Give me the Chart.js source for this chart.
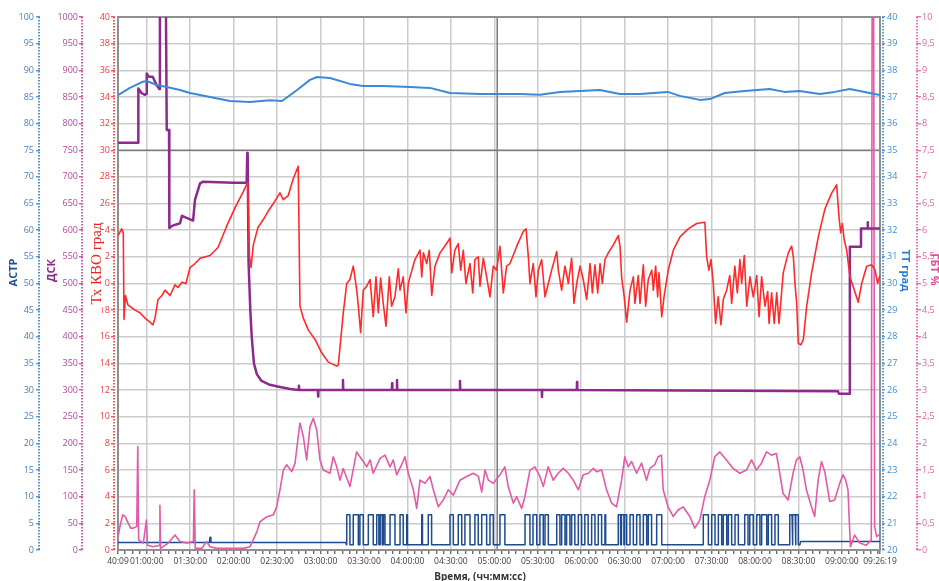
<!DOCTYPE html>
<html>
<head>
<meta charset="utf-8">
<script src="https://cdn.jsdelivr.net/npm/chart.js@4.4.1/dist/chart.umd.min.js"></script>
<style>
  html, body { margin: 0; padding: 0; background: #ffffff; }
  #wrap { width: 939px; height: 581px; }
</style>
</head>
<body>
<div id="wrap"><canvas id="c" width="939" height="581"></canvas></div>
<script>
// ---- time axis (minutes since 00:00) ----
const timeStart = 40.15;   // 00:40:09
const timeEnd = 566.32;    // 09:26:19
const timeTickValues = [40.15, 60, 90, 120, 150, 180, 210, 240, 270, 300, 330, 360, 390, 420, 450, 480, 510, 540, 566.32];
const timeTickLabels = ['40:09', '01:00:00', '01:30:00', '02:00:00', '02:30:00', '03:00:00', '03:30:00', '04:00:00',
  '04:30:00', '05:00:00', '05:30:00', '06:00:00', '06:30:00', '07:00:00', '07:30:00', '08:00:00', '08:30:00',
  '09:00:00', '09:26:19'];

// marker lines
const markerTime = 302;
const markerTemp = 35;

// ---- Тх КВО, град ----
const txSeries = [[40.2,23.6],[42.7,24.1],[43.8,23.8],[44.3,17.3],[45.3,19.1],[47.0,18.4],[51.9,18.0],[55.3,17.8],[58.8,17.4],[62.2,17.1],[64.3,16.9],[65.7,17.4],[67.8,18.8],[70.5,19.1],[72.6,19.5],[76.1,19.1],[79.5,19.9],[81.6,19.7],[84.3,20.1],[87.1,20.0],[89.9,21.2],[93.3,21.5],[96.8,21.9],[103.7,22.1],[109.2,22.7],[115.2,24.3],[121.0,25.7],[126.7,26.9],[129.7,27.6],[130.9,22.1],[132.0,21.2],[133.6,22.9],[136.8,24.2],[140.5,24.8],[143.7,25.4],[147.4,26.0],[152.0,26.8],[154.3,26.3],[157.7,26.6],[161.0,27.8],[164.6,28.8],[165.8,18.3],[168.1,17.4],[171.6,16.5],[176.2,15.8],[180.8,14.8],[185.4,14.1],[191.2,13.8],[192.3,13.9],[195.7,17.8],[198.1,20.0],[200.3,20.3],[202.6,21.3],[205.0,19.5],[206.1,18.3],[207.7,16.3],[209.5,19.5],[211.9,19.8],[214.2,20.3],[216.4,17.5],[218.3,20.5],[219.9,17.8],[221.5,20.4],[223.3,18.5],[225.2,16.8],[227.5,20.5],[229.1,18.3],[231.4,19.0],[233.7,21.1],[234.9,19.5],[237.1,20.5],[239.0,17.8],[240.6,20.0],[241.8,20.5],[245.2,21.8],[248.7,22.5],[249.9,20.5],[251.0,22.3],[253.3,21.5],[255.1,22.5],[256.8,19.1],[259.0,21.3],[262.5,22.3],[267.1,23.0],[269.4,23.4],[270.6,20.8],[272.8,22.5],[275.1,23.0],[276.8,21.0],[278.6,22.5],[280.4,20.0],[283.2,21.5],[285.1,19.3],[286.6,21.8],[288.9,22.0],[290.1,19.8],[292.4,21.9],[294.7,20.5],[297.0,19.0],[299.3,21.3],[301.6,21.0],[303.9,22.8],[306.2,19.3],[308.5,21.3],[310.8,21.5],[315.5,22.8],[320.0,23.9],[321.9,24.1],[323.5,22.0],[324.6,20.0],[326.9,21.5],[328.8,19.0],[330.4,21.0],[332.7,21.8],[335.0,19.0],[337.3,20.0],[339.6,21.0],[343.1,22.4],[344.2,21.0],[346.5,19.5],[348.8,21.3],[351.1,20.0],[353.4,21.9],[355.0,18.5],[356.9,20.0],[359.2,21.3],[361.4,20.3],[363.8,18.8],[366.1,21.5],[367.7,19.3],[369.5,21.4],[371.4,19.3],[373.0,21.5],[374.6,20.0],[376.4,21.8],[378.7,22.3],[382.2,22.9],[385.6,23.6],[386.8,22.8],[387.9,20.5],[389.7,19.0],[391.4,17.1],[393.7,19.5],[396.0,20.5],[397.1,18.5],[399.4,20.6],[400.6,18.5],[402.9,21.4],[404.5,18.3],[406.3,20.3],[408.7,21.0],[409.8,19.5],[411.4,21.3],[412.8,19.0],[413.7,20.8],[415.6,17.5],[417.2,19.0],[420.1,21.0],[423.6,22.5],[428.2,23.5],[433.9,24.1],[439.7,24.5],[445.4,24.6],[446.6,22.0],[448.2,21.0],[449.6,21.8],[451.2,20.0],[452.8,17.0],[454.6,19.0],[456.5,16.9],[458.1,18.8],[460.4,19.5],[462.6,20.6],[463.9,18.5],[466.1,21.3],[467.8,19.3],[469.6,21.8],[470.8,20.0],[472.6,22.1],[474.3,18.3],[476.5,20.5],[478.8,19.0],[481.2,20.6],[482.8,17.5],[484.6,20.5],[486.9,18.3],[488.8,19.4],[489.7,17.0],[491.5,19.3],[493.3,17.0],[495.0,19.3],[496.6,17.0],[499.5,20.8],[503.0,22.3],[505.3,22.8],[506.5,22.0],[507.6,20.0],[508.8,18.5],[509.9,15.5],[511.8,15.4],[513.4,15.8],[515.7,18.3],[519.1,20.8],[523.7,23.5],[528.3,25.6],[533.0,26.8],[536.4,27.4],[538.0,25.0],[539.2,23.8],[540.3,24.5],[541.6,23.3],[543.3,22.5],[545.6,20.5],[548.6,19.5],[551.3,18.6],[553.7,20.0],[557.1,21.3],[560.6,21.4],[562.9,21.0],[564.7,20.0],[566.3,20.6]];

// ---- TT, град ----
const ttSeries = [[40.15,37.07],[48.4,37.34],[56.7,37.56],[60.0,37.6],[66.9,37.45],[73.8,37.37],[83.0,37.26],[89.9,37.15],[103.7,37.0],[117.5,36.85],[131.3,36.81],[145.1,36.88],[153.4,36.85],[163.8,37.26],[172.7,37.64],[177.6,37.75],[186.5,37.71],[200.3,37.49],[209.3,37.41],[223.1,37.41],[241.8,37.37],[255.6,37.34],[269.4,37.15],[290.1,37.11],[317.7,37.11],[331.5,37.08],[345.3,37.19],[359.1,37.22],[372.9,37.26],[386.7,37.11],[400.5,37.11],[419.8,37.19],[428.1,37.04],[441.9,36.89],[448.8,36.92],[459.1,37.15],[472.9,37.22],[490.2,37.3],[500.5,37.19],[510.9,37.22],[524.7,37.11],[535.0,37.19],[545.4,37.3],[552.3,37.22],[559.2,37.15],[566.32,37.07]];

// ---- ДСК ----
const dskSeries = [[40.15,764],[54.1,764],[54.2,866],[56.5,857],[58.8,854],[59.9,856],[60.0,894],[61.4,888],[64.1,888],[66.9,872],[68.7,865],[69.1,1080],[73.1,1080],[73.8,788],[75.4,788],[75.6,604],[77.4,608],[83.0,613],[84.3,627],[92.0,618],[93.3,657],[96.8,688],[98.9,691],[110,690],[120,689],[129.0,689],[129.4,745],[129.7,740],[130.3,540],[131.5,450],[132.5,400],[134,350],[136,330],[139,318],[145,310],[152,306],[159,302],[165,300],[165.1,308],[165.3,300],[178.2,300],[178.3,288],[178.5,300],[195.4,300],[195.5,319],[195.7,300],[229.3,300],[229.4,313],[229.6,300],[232.7,300],[232.8,319],[233.0,300],[276.2,300],[276.3,317],[276.5,300],[332.8,300],[332.9,287],[333.1,300],[357.0,300],[357.1,315],[357.3,300],[537.3,298],[538.0,293],[545.4,293],[545.5,569],[553.0,569],[553.2,603],[557.6,603],[557.8,615],[558.0,603],[566.32,603]];

// ---- ГБТ % ----
const gbtSeries = [[40.2,0.25],[41.5,0.44],[43.4,0.66],[45.0,0.63],[47.3,0.5],[48.9,0.41],[50.7,0.41],[53.1,0.44],[53.8,1.94],[54.4,0.19],[57.6,0.13],[59.8,0.56],[60.5,0.09],[64.5,0.06],[68.9,0.09],[69.1,0.84],[69.5,0.03],[74.9,0.13],[79.5,0.28],[83.0,0.16],[87.6,0.13],[92.2,0.16],[92.8,1.13],[93.5,0.03],[98.0,0.03],[101.4,0.16],[103.7,0.06],[108.3,0.03],[126.7,0.03],[131.3,0.06],[136.0,0.34],[138.2,0.53],[142.8,0.62],[147.4,0.66],[149.7,0.81],[152.0,1.13],[154.3,1.5],[156.6,1.6],[160.1,1.47],[162.4,1.63],[164.6,2.13],[165.8,2.38],[168.1,2.13],[170.4,1.69],[172.7,2.31],[175.0,2.47],[177.4,2.25],[179.6,1.69],[181.9,1.5],[186.5,1.44],[188.8,1.75],[191.2,1.56],[193.4,1.31],[195.7,1.53],[200.3,1.19],[204.9,1.84],[207.2,1.75],[209.5,1.66],[211.9,1.56],[214.2,1.69],[216.4,1.44],[221.1,1.72],[224.5,1.78],[228.0,1.56],[230.2,1.69],[232.6,1.41],[236.0,1.60],[238.3,1.75],[240.6,1.44],[244.1,1.13],[246.4,0.78],[248.7,1.31],[252.1,1.25],[255.6,1.38],[257.9,1.13],[261.3,0.81],[264.8,0.94],[268.2,1.13],[271.7,1.03],[276.3,1.31],[280.9,1.38],[285.5,1.44],[289.0,1.38],[291.3,1.09],[293.6,1.5],[295.9,1.31],[299.3,1.25],[303.9,1.41],[307.3,1.56],[309.6,1.19],[313.1,0.88],[315.4,1.0],[318.9,0.78],[321.1,1.0],[324.6,1.5],[328.0,1.56],[331.5,1.38],[333.8,1.19],[337.2,1.56],[340.7,1.31],[344.1,1.44],[347.6,1.53],[351.1,1.44],[354.5,1.31],[358.0,1.13],[361.4,1.41],[364.9,1.44],[368.3,1.53],[370.6,1.47],[374.1,1.5],[377.5,1.13],[381.0,0.88],[384.4,0.81],[387.9,1.31],[390.1,1.75],[392.4,1.56],[394.8,1.66],[398.2,1.44],[401.7,1.63],[405.1,1.31],[407.4,1.53],[410.8,1.6],[413.1,1.75],[415.4,1.78],[416.6,1.13],[420.0,0.81],[423.5,0.63],[426.9,0.75],[430.4,0.81],[435.0,0.63],[438.4,0.41],[441.9,0.56],[445.3,1.0],[448.8,1.31],[452.2,1.75],[455.7,1.84],[460.3,1.69],[464.9,1.53],[469.5,1.44],[474.1,1.5],[477.6,1.69],[481.0,1.5],[484.5,1.63],[487.9,1.84],[491.4,1.78],[494.8,1.81],[497.1,1.44],[499.4,1.06],[502.9,0.94],[506.3,1.44],[508.6,1.69],[510.9,1.75],[513.2,1.5],[515.5,1.13],[519.0,0.81],[521.2,0.63],[523.6,1.31],[525.9,1.66],[528.2,1.47],[531.6,0.91],[535.0,0.94],[538.5,1.25],[540.8,1.41],[542.6,1.31],[544.2,1.13],[545.9,0.06],[548.8,0.28],[552.3,0.13],[556.9,0.09],[560.3,0.19],[560.9,10.5],[561.9,10.5],[562.6,0.44],[564.0,0.25],[566.3,0.3]];

// ---- АСТР ----
const astrLead = [[40.15,1.4],[103.2,1.4],[103.7,2.4],[104.3,1.4],[197.5,1.4],[197.8,1.0]];
const astrLow = 1.0;
const astrHigh = 6.6;
const astrPulses = [[198.1,200.3],[202.6,206.1],[207.2,209.5],[213.0,216.4],[218.8,220.3],[221.2,222.6],[223.4,224.5],[228.0,231.4],[234.9,237.1],[239.5,240.0],[249.9,250.4],[254.4,256.7],[269.4,271.7],[275.1,277.5],[279.7,283.2],[286.6,288.9],[291.3,294.7],[297.0,299.3],[303.9,307.3],[321.2,324.6],[326.7,329.3],[331.5,333.8],[335.0,337.3],[343.1,345.3],[346.5,348.8],[349.9,352.2],[353.4,355.6],[358.0,360.3],[362.5,364.8],[367.2,369.5],[371.8,374.1],[376.4,376.9],[385.6,387.2],[387.8,389.5],[390.0,391.4],[393.7,396.0],[398.3,400.6],[402.9,405.2],[406.3,408.6],[412.1,415.6],[444.3,447.8],[450.1,452.4],[454.7,457.0],[458.1,460.5],[461.6,463.9],[466.2,468.5],[472.9,475.2],[476.4,478.8],[481.2,483.4],[484.6,488.1],[489.2,491.5],[493.8,496.1],[504.0,505.6],[506.2,507.8],[508.3,509.9]];
const astrTail = [[511.0,1.0],[511.5,1.6],[566.32,1.6]];

// ---- axis ranges [min, max, step] ----
const astrRange = [0, 100, 5];
const dskRange = [0, 1000, 50];
const txRange = [0, 40, 2];
const ttRange = [20, 40, 1];
const gbtRange = [0, 10, 0.5];

// ---------------------------------------------------------------
const toXY = arr => arr.map(p => ({ x: p[0], y: p[1] }));

const astrPoints = toXY(astrLead);
astrPulses.forEach(([a, b]) => {
  astrPoints.push({ x: a, y: astrLow }, { x: a, y: astrHigh }, { x: b, y: astrHigh }, { x: b, y: astrLow });
});
astrTail.forEach(p => astrPoints.push({ x: p[0], y: p[1] }));

const isMajorTime = v => timeTickValues.some(t => Math.abs(t - v) < 0.01);
const timeLabel = v => {
  const i = timeTickValues.findIndex(t => Math.abs(t - v) < 0.01);
  return i >= 0 ? timeTickLabels[i] : '';
};

const xTicks = [timeStart];
for (let m = 45; m < timeEnd; m += 5) xTicks.push(m);
xTicks.push(timeEnd);

const FONT = "'Open Sans', 'Noto Sans', sans-serif";
Chart.defaults.font.family = FONT;

function yAxis(position, weight, width, range, labelColor, opts = {}) {
  return {
    type: 'linear',
    position, weight,
    min: range[0], max: range[1],
    afterFit: s => { s.width = width; },
    afterBuildTicks: s => {
      const t = [];
      for (let v = range[0]; v <= range[1] + 1e-9; v += range[2]) t.push({ value: +v.toFixed(3) });
      s.ticks = t;
    },
    ticks: {
      color: labelColor,
      font: { size: 9 },
      padding: opts.padding ?? 1,
      autoSkip: false,
      callback: opts.fmt || (v => String(v))
    },
    grid: {
      display: true,
      drawOnChartArea: !!opts.chartGrid,
      color: opts.chartGrid ? '#cbcbcb' : 'rgba(0,0,0,0)',
      lineWidth: 1.5,
      drawTicks: true,
      tickLength: opts.tickLength ?? 4,
      tickColor: labelColor,
      tickWidth: 1.2
    },
    border: { display: false },
    title: { display: false }
  };
}

const spacer = (position, width) => ({
  type: 'linear', position, weight: 0, display: true,
  afterFit: s => { s.width = width; },
  ticks: { display: false },
  grid: { display: false },
  border: { display: false }
});

// dotted axis lines beside each tick column
const axisDots = [
  { axis: 'astr', color: '#5a8fd0' },
  { axis: 'dsk', color: '#c466b4' },
  { axis: 'tx', color: '#f05a5a' },
  { axis: 'tt', color: '#4d9be0' },
  { axis: 'gbt', color: '#e57aae' }
];

// axis titles drawn beside the tick labels
const axisTitles = [
  { axis: 'astr', text: 'АСТР', font: `bold 11px ${FONT}`, color: '#1d4f93', dx: 14, dy: -11, angle: -1 },
  { axis: 'dsk', text: 'ДСК', font: `bold 11px ${FONT}`, color: '#8a2a8c', dx: 12, dy: -13, angle: -1 },
  { axis: 'tx', text: 'Тх КВО град', font: "15px 'Liberation Serif', 'DejaVu Serif', serif", color: '#f02222', dx: 14, dy: -20, angle: -1, mask: true },
  { axis: 'tt', text: 'TT град', font: `bold 11px ${FONT}`, color: '#2b7fd0', dx: 23, dy: -13, angle: 1 },
  { axis: 'gbt', text: 'ГБТ %', font: `bold 11px ${FONT}`, color: '#e0509a', dx: 18, dy: -14, angle: 1 }
];
const timeTitle = 'Время, (чч:мм:сс)';

const decorPlugin = {
  id: 'decor',
  beforeDatasetsDraw(chart) {
    const { ctx, chartArea: a, scales } = chart;
    ctx.save();
    ctx.strokeStyle = '#7c7c7c';
    ctx.lineWidth = 1.5;
    const mx = scales.x.getPixelForValue(markerTime);
    ctx.beginPath(); ctx.moveTo(mx, a.top); ctx.lineTo(mx, a.bottom); ctx.stroke();
    const my = scales.tt.getPixelForValue(markerTemp);
    ctx.beginPath(); ctx.moveTo(a.left, my); ctx.lineTo(a.right, my); ctx.stroke();
    ctx.strokeStyle = '#909090';
    ctx.lineWidth = 2;
    ctx.strokeRect(a.left, a.top, a.right - a.left, a.bottom - a.top);

    ctx.lineWidth = 2;
    ctx.setLineDash([1.4, 1.6]);
    axisDots.forEach(d => {
      const s = scales[d.axis];
      const x = s.position === 'left' ? s.right - 1 : s.left + 1;
      ctx.strokeStyle = d.color;
      ctx.beginPath(); ctx.moveTo(x, a.top); ctx.lineTo(x, a.bottom); ctx.stroke();
    });
    ctx.restore();
  },
  afterDraw(chart) {
    const { ctx, chartArea: a, scales } = chart;
    const midY = (a.top + a.bottom) / 2;
    ctx.save();
    ctx.textAlign = 'center';
    ctx.textBaseline = 'middle';
    axisTitles.forEach(t => {
      const s = scales[t.axis];
      ctx.save();
      ctx.translate(s.left + t.dx, midY + t.dy);
      ctx.rotate(t.angle * Math.PI / 2);
      ctx.font = t.font;
      if (t.mask) {
        const w = ctx.measureText(t.text).width;
        ctx.fillStyle = '#ffffff';
        ctx.fillRect(-w / 2 - 3, -8, w + 6, 16);
      }
      ctx.fillStyle = t.color;
      ctx.fillText(t.text, 0, 0);
      ctx.restore();
    });
    ctx.font = `bold 10px ${FONT}`;
    ctx.fillStyle = '#333333';
    ctx.fillText(timeTitle, (a.left + a.right) / 2 - 19, 577);
    ctx.restore();
  }
};

const lineStyle = (color, width) => ({
  borderColor: color, borderWidth: width, pointRadius: 0, fill: false,
  tension: 0, borderJoinStyle: 'round'
});

new Chart(document.getElementById('c'), {
  type: 'line',
  data: {
    datasets: [
      { label: 'Тх КВО', data: toXY(txSeries), yAxisID: 'tx', ...lineStyle('#ff2a2a', 1.6) },
      { label: 'TT', data: toXY(ttSeries), yAxisID: 'tt', ...lineStyle('#3a8ad6', 2) },
      { label: 'ДСК', data: toXY(dskSeries), yAxisID: 'dsk', ...lineStyle('#8e2a8e', 2.5) },
      { label: 'ГБТ', data: toXY(gbtSeries), yAxisID: 'gbt', ...lineStyle('#e35aa6', 1.6) },
      { label: 'АСТР', data: astrPoints, yAxisID: 'astr', ...lineStyle('#1e4b8f', 1.5) }
    ]
  },
  options: {
    responsive: false,
    animation: false,
    devicePixelRatio: 1,
    layout: { padding: { top: 17, left: 0, right: 0, bottom: 0 } },
    plugins: { legend: { display: false }, tooltip: { enabled: false } },
    scales: {
      x: {
        type: 'linear',
        min: timeStart, max: timeEnd,
        afterFit: s => { s.height = 31; },
        afterBuildTicks: s => { s.ticks = xTicks.map(v => ({ value: v })); },
        ticks: {
          autoSkip: false, maxRotation: 0, minRotation: 0,
          color: '#404040', font: { size: 8.5 }, padding: 2,
          callback: v => timeLabel(v)
        },
        grid: {
          color: c => (c.tick && isMajorTime(c.tick.value)) ? '#cbcbcb' : 'rgba(0,0,0,0)',
          lineWidth: 1.5,
          drawTicks: true, tickLength: 4, tickColor: '#555555', tickWidth: 1.2
        },
        border: { display: false }
      },
      gapL: spacer('left', 3),
      tx: yAxis('left', 1, 32, txRange, '#f03c3c', { chartGrid: true, padding: 1 }),
      dsk: yAxis('left', 2, 43, dskRange, '#b04a9e', { padding: 1 }),
      astr: yAxis('left', 3, 40, astrRange, '#4a7fbf', { padding: 2 }),
      gapR: spacer('right', 2),
      tt: yAxis('right', 1, 34, ttRange, '#3b8fd9', { padding: 2, tickLength: 3 }),
      gbt: yAxis('right', 2, 23, gbtRange, '#e0649e', { padding: 1, tickLength: 5, fmt: v => String(v).replace('.', ',') })
    }
  },
  plugins: [decorPlugin]
});
</script>
</body>
</html>
